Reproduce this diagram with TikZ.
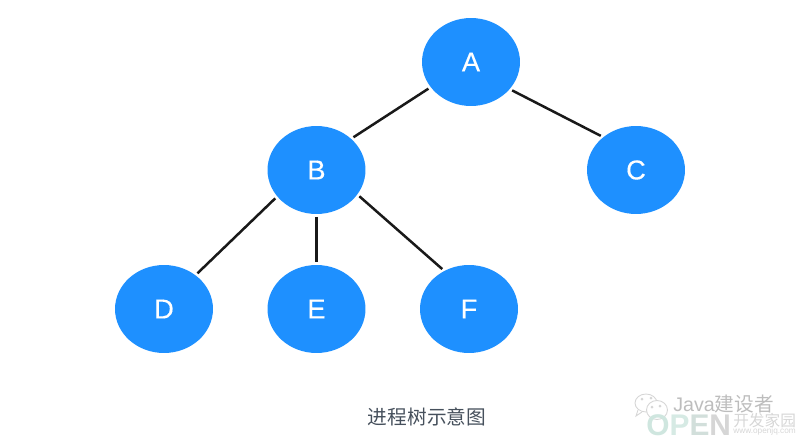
\documentclass[tikz,border=0pt]{standalone}
\usepackage{fontspec}
\setmainfont{Liberation Sans}
\newfontfamily\cjkfont{Noto Sans CJK SC}
\newfontfamily\procfont[FakeBold=0.35]{Liberation Sans}
\usetikzlibrary{positioning, shapes.geometric}
\definecolor{nodeblue}{HTML}{1E90FF}
\definecolor{captiongray}{HTML}{46505C}
\definecolor{markgray}{HTML}{BDBDBD}
\definecolor{markpale}{HTML}{D6D6D6}
\definecolor{markgreen}{HTML}{CFE6DF}
\tikzset{
  proc/.style={ellipse, fill=nodeblue, text=white, minimum width=1.96cm, minimum height=1.76cm, inner sep=0pt, font=\procfont\fontsize{15.5}{15.5}\selectfont},
  link/.style={line width=0.05cm, black!90, shorten <=0.05cm, shorten >=0.05cm},
  bubble/.style={draw=markpale, line width=0.5pt, fill=white},
}

\begin{document}
\begin{tikzpicture}[x=0.02cm,y=-0.02cm]
  \useasboundingbox (0,0) rectangle (799,443);

  % Process nodes
  \node[proc] (A) at (471,62) {A};
  \node[proc] (B) at (316.5,170) {B};
  \node[proc] (C) at (636,170) {C};
  \node[proc] (D) at (164,309) {D};
  \node[proc] (E) at (316.5,309) {E};
  \node[proc] (F) at (469,309) {F};

  % Tree edges
  \draw[link] (A.212) -- (B.42);
  \draw[link] (A.-35) -- (C.135);
  \draw[link] (B.-146) -- (D.47);
  \draw[link] (B.-90) -- (E.90);
  \draw[link] (B.-31) -- (F.123);

  % Caption
  \node[text=captiongray, font=\cjkfont\fontsize{11.2}{11.2}\selectfont] (caption) at (427,417) {进程树示意图};

  % Chat bubbles in the corner
  \draw[bubble] (646,403) ellipse (11 and 9);
  \draw[bubble] (638,410) -- (636,416) -- (642,412);
  \fill[markpale] (642,399) circle (1.5) (651,398) circle (1.5);
  \draw[bubble] (657,410) ellipse (10.5 and 9.5);
  \fill[markpale] (652,407) circle (1.5) (660,406) circle (1.5);

  % Corner marks
  \node[text=markgreen, font=\bfseries\fontsize{17}{17}\selectfont, anchor=west, inner sep=0pt] (open) at (646,425) {O\textcolor{markgreen!85!white}{P}\textcolor{markgreen!55!markpale}{E}\textcolor{markpale}{N}};
  \node[text=markgray, font=\fontsize{11.2}{11.2}\selectfont, anchor=west, inner sep=0pt] (java) at (673,404) {Java\cjkfont 建设者};
  \node[text=markpale, font=\cjkfont\fontsize{8.9}{8.9}\selectfont, anchor=west, inner sep=0pt] (home) at (733,421) {开发家园};
  \node[text=markpale, font=\fontsize{4.7}{4.7}\selectfont, anchor=west, inner sep=0pt] (site) at (733,431) {www.openjq.com};
\end{tikzpicture}
\end{document}
